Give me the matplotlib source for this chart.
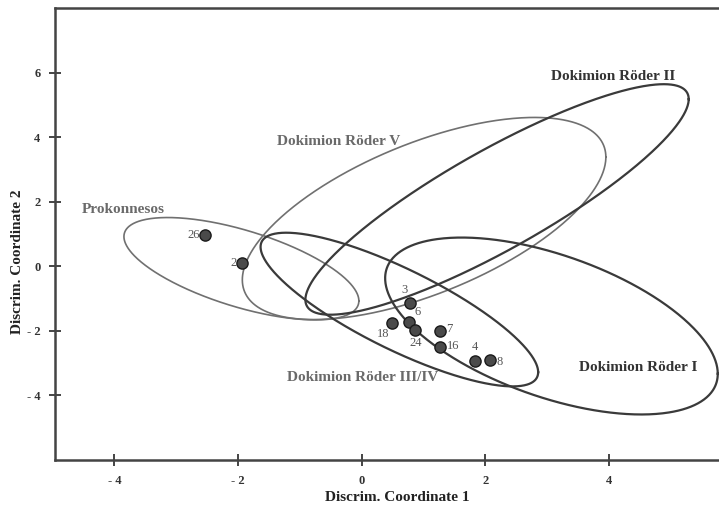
import numpy as np
import matplotlib
matplotlib.use("Agg")
import matplotlib.pyplot as plt

plt.rcParams['font.family'] = ['Liberation Serif', 'DejaVu Serif']

# ---- data ----
ellipse_names = ["Prokonnesos", "Dokimion Röder V", "Dokimion Röder II",
                 "Dokimion Röder III/IV", "Dokimion Röder I"]
ellipse_cx = [-1.945, 1.01, 2.19, 0.61, 3.07]
ellipse_cy = [-0.075, 1.48, 2.07, -1.34, -1.85]
ellipse_rx = [1.90, 2.94, 3.10, 2.245, 2.69]
ellipse_ry = [1.585, 3.13, 3.57, 2.38, 2.74]
ellipse_rho = [-0.628, 0.607, 0.87, -0.815, -0.54]

point_ids = ["26", "2", "3", "6", "18", "24", "7", "16", "4", "8"]
point_x = [-2.53, -1.93, 0.79, 0.76, 0.49, 0.87, 1.26, 1.26, 1.83, 2.07]
point_y = [0.98, 0.11, -1.13, -1.72, -1.75, -1.97, -2.00, -2.50, -2.93, -2.91]

label_x = [-3.85, -0.37, 4.07, 0.02, 4.47]
label_y = [1.75, 3.87, 5.89, -3.43, -3.15]

x_ticks = [-4, -2, 0, 2, 4]
x_ticklabels = ["- 4", "- 2", "0", "2", "4"]
y_ticks = [-4, -2, 0, 2, 4, 6]
y_ticklabels = ["- 4", "- 2", "0", "2", "4", "6"]

# ---- styles ----
line_colors = ["#707070", "#707070", "#3a3a3a", "#3a3a3a", "#3a3a3a"]
line_widths = [1.2, 1.2, 1.6, 1.6, 1.6]
text_colors = ["#6a6a6a", "#6a6a6a", "#333333", "#6a6a6a", "#333333"]
# offsets (points) for point labels
lab_off = {"26": (-4, 0, 'right', 'center'), "2": (-4, 0, 'right', 'center'),
           "3": (-2, 5, 'right', 'bottom'), "6": (4, 3, 'left', 'bottom'),
           "18": (-2, -4, 'right', 'top'), "24": (0, -5, 'center', 'top'),
           "7": (5, 1, 'left', 'center'), "16": (5, 1, 'left', 'center'),
           "4": (0, 6, 'center', 'bottom'), "8": (5, -1, 'left', 'center')}

fig = plt.figure(figsize=(7.19, 5.11), dpi=100)
ax = fig.add_axes([55/719, 51/511, 664/719, 452/511])
ax.set_xlim(-4.96, 5.78)
ax.set_ylim(-6.0, 8.0)

t = np.linspace(0, 2*np.pi, 600)
for i in range(len(ellipse_names)):
    phi = np.arccos(ellipse_rho[i])
    ex = ellipse_cx[i] + ellipse_rx[i]*np.cos(t)
    ey = ellipse_cy[i] + ellipse_ry[i]*np.cos(t - phi)
    ax.plot(ex, ey, color=line_colors[i], lw=line_widths[i], zorder=2)
    ax.text(label_x[i], label_y[i], ellipse_names[i], color=text_colors[i],
            fontsize=11, fontweight='bold', ha='center', va='center', zorder=4)

ax.scatter(point_x, point_y, s=65, facecolor="#4a4a4a", edgecolor="#1a1a1a",
           linewidths=1.0, zorder=3)
for pid, px, py in zip(point_ids, point_x, point_y):
    dx, dy, ha, va = lab_off[pid]
    ax.annotate(pid, (px, py), xytext=(dx, dy), textcoords='offset points',
                ha=ha, va=va, fontsize=9, color="#555555")

ax.set_xticks(x_ticks)
ax.set_xticklabels(x_ticklabels)
ax.set_yticks(y_ticks)
ax.set_yticklabels(y_ticklabels)
ax.tick_params(direction='inout', length=9, width=1.4, colors="#444444",
               labelsize=9, pad=6)
for lab in ax.get_xticklabels() + ax.get_yticklabels():
    lab.set_fontweight('bold')
    lab.set_color("#333333")

for s in ['left', 'bottom', 'top']:
    ax.spines[s].set_linewidth(1.8)
    ax.spines[s].set_color("#444444")
ax.spines['right'].set_visible(False)

fig.text(397/719, 1 - 497/511, "Discrim. Coordinate 1", ha='center', va='center',
         fontsize=11, fontweight='bold', color="#222222")
fig.text(18/719, 1 - 262/511, "Discrim. Coordinate 2", ha='center', va='center',
         fontsize=11, fontweight='bold', color="#222222", rotation=90)

fig.savefig("out.png", dpi=100)
